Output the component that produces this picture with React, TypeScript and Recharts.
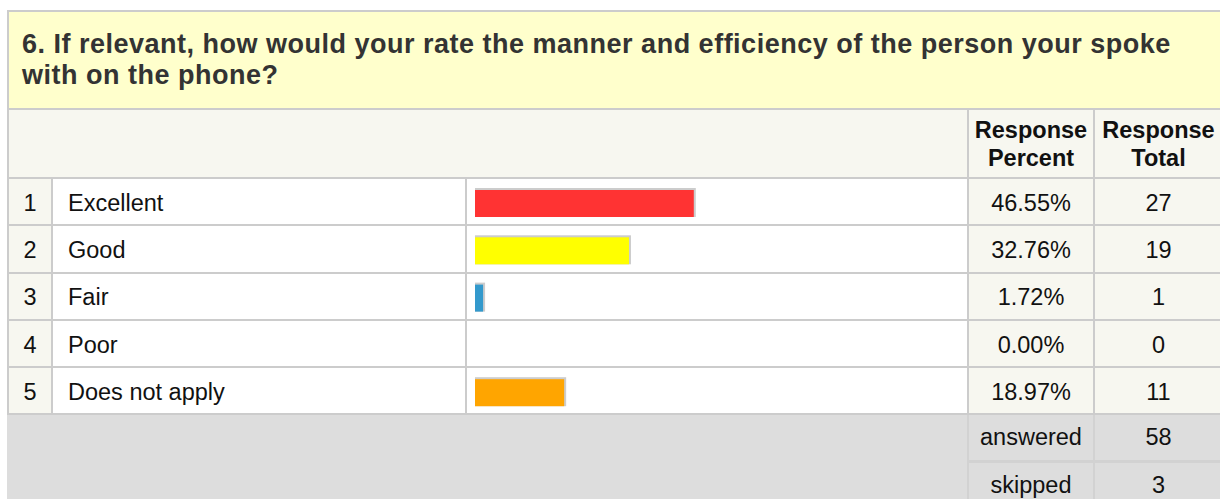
import React from "react";
import { BarChart, Bar, XAxis, YAxis, Cell } from "recharts";

const question =
  "6. If relevant, how would your rate the manner and efficiency of the person your spoke with on the phone?";
const headers = ["Response Percent", "Response Total"];
const choices = ["Excellent", "Good", "Fair", "Poor", "Does not apply"];
const percents = [46.55, 32.76, 1.72, 0.0, 18.97];
const totals = [27, 19, 1, 0, 11];
const footerLabels = ["answered", "skipped"];
const footerValues = [58, 3];

const barColors = ["#ff3333", "#ffff00", "#3399cc", "#cccccc", "#ffa500"];

const FONT = '"Liberation Sans", Arial, Helvetica, sans-serif';
const BORDER = "#cccccc";
const LIGHT = "#f7f7f0";

// column edges (left border of each column)
const X0 = 7;
const X1 = 51;
const X2 = 465;
const X3 = 967;
const X4 = 1093;
const XR = 1222;
const ROW_Y = 177;
const ROW_H = 47.3;
const FOOT_Y = ROW_Y + 5 * ROW_H + 1.5;

type BoxProps = {
  x: number;
  y: number;
  w: number;
  h: number;
  bg: string;
  align?: "left" | "center";
  padLeft?: number;
  padTop?: number;
  children?: React.ReactNode;
};

function Box({ x, y, w, h, bg, align = "center", padLeft = 0, padTop = 0, children }: BoxProps) {
  return (
    <div
      style={{
        position: "absolute",
        left: x,
        top: y,
        width: w,
        height: h,
        background: bg,
        display: "flex",
        alignItems: "center",
        justifyContent: align === "center" ? "center" : "flex-start",
        paddingLeft: padLeft,
        paddingTop: padTop,
        boxSizing: "border-box",
        fontSize: 23.5,
        color: "#111",
        textAlign: "center",
        whiteSpace: "nowrap",
      }}
    >
      {children}
    </div>
  );
}

function ShadowBar(props: any) {
  const { x, y, width, height, index } = props;
  if (!width || width <= 0) return null;
  return (
    <g>
      <rect x={x} y={y - 2} width={width + 2} height={height + 2} fill={BORDER} />
      <rect x={x} y={y} width={width} height={height} fill={barColors[index]} />
    </g>
  );
}

export default function App() {
  const data = choices.map((name, i) => ({ name, percent: percents[i] }));

  return (
    <div
      style={{
        position: "absolute",
        left: 0,
        top: 0,
        width: 1220,
        height: 499,
        overflow: "hidden",
        background: "#fff",
        fontFamily: FONT,
      }}
    >
      {/* grid lines show through the gaps */}
      <div style={{ position: "absolute", left: X0, top: 10, width: XR - X0, height: 499, background: BORDER }} />

      {/* title */}
      <div
        style={{
          position: "absolute",
          left: X0 + 2,
          top: 12,
          width: XR - X0 - 2,
          height: 96,
          background: "#ffffcc",
        }}
      >
        <div
          style={{
            position: "absolute",
            left: 13,
            top: 17,
            width: 1180,
            fontSize: 27,
            letterSpacing: 0.5,
            lineHeight: "31px",
            fontWeight: "bold",
            color: "#333",
          }}
        >
          {question}
        </div>
      </div>

      {/* header row */}
      <Box x={X0 + 2} y={110} w={X3 - X0 - 2} h={ROW_Y - 110} bg={LIGHT} />
      {headers.map((h, i) => (
        <Box
          key={h}
          x={(i === 0 ? X3 : X4) + 2}
          y={110}
          w={(i === 0 ? X4 : XR) - (i === 0 ? X3 : X4) - 2}
          h={ROW_Y - 110}
          bg={LIGHT}
        >
          <div style={{ fontWeight: "bold", fontSize: 23.5, lineHeight: "28px", whiteSpace: "normal", width: 114 }}>
            {h.split(" ").map((word) => (
              <div key={word}>{word}</div>
            ))}
          </div>
        </Box>
      ))}

      {/* data rows */}
      {choices.map((c, i) => {
        const y = ROW_Y + i * ROW_H + 2;
        const h = ROW_H - 2;
        return (
          <React.Fragment key={c}>
            <Box x={X0 + 2} y={y} w={X1 - X0 - 2} h={h} bg={LIGHT} padTop={3}>
              {i + 1}
            </Box>
            <Box x={X1 + 2} y={y} w={X2 - X1 - 2} h={h} bg="#fff" align="left" padLeft={15} padTop={3}>
              {c}
            </Box>
            <Box x={X2 + 2} y={y} w={X3 - X2 - 2} h={h} bg="#fff" />
            <Box x={X3 + 2} y={y} w={X4 - X3 - 2} h={h} bg={LIGHT} padTop={3}>
              {percents[i].toFixed(2)}%
            </Box>
            <Box x={X4 + 2} y={y} w={XR - X4 - 2} h={h} bg={LIGHT} padTop={3}>
              {totals[i]}
            </Box>
          </React.Fragment>
        );
      })}

      {/* footer */}
      <div style={{ position: "absolute", left: X0, top: FOOT_Y, width: XR - X0, height: 499 - FOOT_Y, background: "#d2d2d2" }} />
      <Box x={X0} y={FOOT_Y} w={X3 - X0} h={499 - FOOT_Y} bg="#dddddd" />
      {footerLabels.map((label, i) => {
        const y = FOOT_Y + i * 46.5 + (i === 0 ? 0 : 1.5);
        const h = 45;
        return (
          <React.Fragment key={label}>
            <Box x={X3 + 2} y={y} w={X4 - X3 - 2} h={h} bg="#dddddd" padTop={0}>
              {label}
            </Box>
            <Box x={X4 + 2} y={y} w={XR - X4 - 2} h={h} bg="#dddddd" padTop={0}>
              {footerValues[i]}
            </Box>
          </React.Fragment>
        );
      })}

      {/* bars */}
      <div style={{ position: "absolute", left: 474.5, top: 180 }}>
        <BarChart
          width={470}
          height={5 * ROW_H}
          data={data}
          layout="vertical"
          margin={{ top: 0, right: 0, bottom: 0, left: 0 }}
        >
          <XAxis type="number" domain={[0, 100]} hide />
          <YAxis type="category" dataKey="name" hide />
          <Bar dataKey="percent" barSize={27} shape={ShadowBar} isAnimationActive={false}>
            {data.map((d, i) => (
              <Cell key={d.name} fill={barColors[i]} />
            ))}
          </Bar>
        </BarChart>
      </div>
    </div>
  );
}
